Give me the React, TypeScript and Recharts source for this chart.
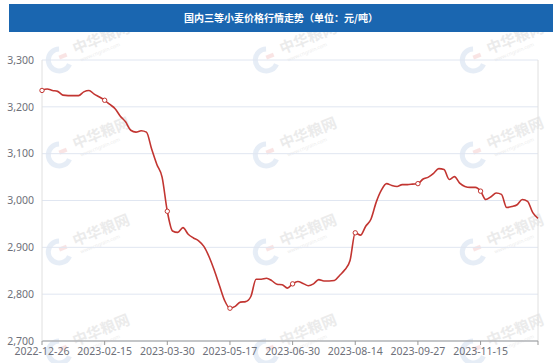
import React from "react";
import { LineChart, Line, XAxis, YAxis, CartesianGrid, ReferenceLine } from "recharts";

// 国内三等小麦价格 (元/吨), one value per trading day
const PRICES = [
  3235, 3238, 3235, 3233, 3225, 3224, 3224, 3224, 3232, 3235, 3227, 3221,
  3214, 3205, 3196, 3180, 3168, 3150, 3146, 3149, 3146, 3110, 3077, 3050,
  2977, 2935, 2932, 2942, 2928, 2920, 2914, 2902, 2880, 2851, 2818, 2786,
  2770, 2774, 2783, 2784, 2795, 2832, 2832, 2834, 2829, 2821, 2820, 2813,
  2822, 2827, 2823, 2818, 2822, 2831, 2828, 2828, 2829, 2840, 2852, 2872,
  2931, 2926, 2945, 2960, 2996, 3022, 3036, 3032, 3030, 3034, 3034, 3035,
  3036, 3046, 3050, 3058, 3068, 3066, 3045, 3051, 3037, 3030, 3028, 3028,
  3020, 3002, 3008, 3016, 3013, 2985, 2987, 2991, 3002, 2998, 2974, 2962,
];

const X_LABELS = [
  "2022-12-26", "2023-02-15", "2023-03-30", "2023-05-17",
  "2023-06-30", "2023-08-14", "2023-09-27", "2023-11-15",
];
const LABEL_STEP = 12;
const Y_TICKS = [2700, 2800, 2900, 3000, 3100, 3200, 3300];

const TITLE = "国内三等小麦价格行情走势（单位：元/吨）";
const WM_COLS = [93, 300, 507];
const WM_ROWS = [45, 140, 237, 337];

const RED = "#c23531";

const data = PRICES.map((price, i) => ({ i, price }));
const lastIdx = PRICES.length - 1;
const xTicks = [...X_LABELS.map((_, k) => k * LABEL_STEP), lastIdx];

const fmtLabel = (v: number) => (v % LABEL_STEP === 0 ? X_LABELS[v / LABEL_STEP] ?? "" : "");

function Dot(props: any) {
  const { cx, cy, index } = props;
  if (index % LABEL_STEP !== 0) return <g key={`d${index}`} />;
  return <circle key={`d${index}`} cx={cx} cy={cy} r={2.2} fill="#fff" stroke={RED} strokeWidth={1} />;
}

function Watermarks() {
  return (
    <svg width={554} height={363} style={{ position: "absolute", left: 0, top: 0 }}>
      {WM_ROWS.map((y) =>
        WM_COLS.map((x) => (
          <g key={`${x}-${y}`} transform={`translate(${x},${y}) rotate(-22)`} opacity={0.35}>
            <path d="M -33 -9 A 11 11 0 1 0 -29 9" fill="none" stroke="#b9cde8" strokeWidth={5} />
            <rect x={-36} y={-3} width={8} height={4} fill="#efb5b5" />
            <text x={-20} y={2} fontSize={15} fontWeight="bold" fill="#c8c8c8" fontFamily="Noto Sans CJK SC">
              中华粮网
            </text>
            <text x={-17} y={11} fontSize={5} fill="#c8c8c8" fontFamily="Noto Sans">
              www.cngrain.com
            </text>
          </g>
        ))
      )}
    </svg>
  );
}

export default function App() {
  return (
    <div style={{ position: "absolute", left: 0, top: 0, width: 554, height: 363, background: "#fff", fontFamily: "'Noto Sans', sans-serif" }}>
      <Watermarks />
      <div
        style={{
          position: "absolute", left: 9, top: 4, width: 544, height: 28, background: "#1a66b0",
          color: "#fff", fontSize: 10, fontWeight: "bold", lineHeight: "28px", textAlign: "center",
          fontFamily: "'Noto Sans CJK SC', sans-serif",
        }}
      >
        {TITLE}
      </div>
      <div style={{ position: "absolute", left: 0, top: 0 }}>
        <LineChart width={554} height={363} data={data} margin={{ top: 60, right: 16, bottom: 2, left: 0 }}>
          <CartesianGrid vertical={false} stroke="#e0e6f1" />
          <XAxis
            dataKey="i"
            type="category"
            ticks={xTicks}
            interval={0}
            tickFormatter={fmtLabel}
            height={20}
            tickSize={4}
            tickMargin={3}
            stroke="#999"
            tick={{ fill: "#6e7079", fontSize: 10.5 }}
          />
          <YAxis
            domain={[2700, 3300]}
            ticks={Y_TICKS}
            width={42}
            tickLine={false}
            axisLine={{ stroke: "#e0e0e0" }}
            tickFormatter={(v: number) => v.toLocaleString("en-US")}
            tick={{ fill: "#6e7079", fontSize: 10.5 }}
          />
          <ReferenceLine x={lastIdx} stroke="#e0e0e0" />
          <Line
            type="monotone"
            dataKey="price"
            stroke={RED}
            strokeWidth={1.6}
            dot={<Dot />}
            activeDot={false}
            isAnimationActive={false}
          />
        </LineChart>
      </div>
    </div>
  );
}
